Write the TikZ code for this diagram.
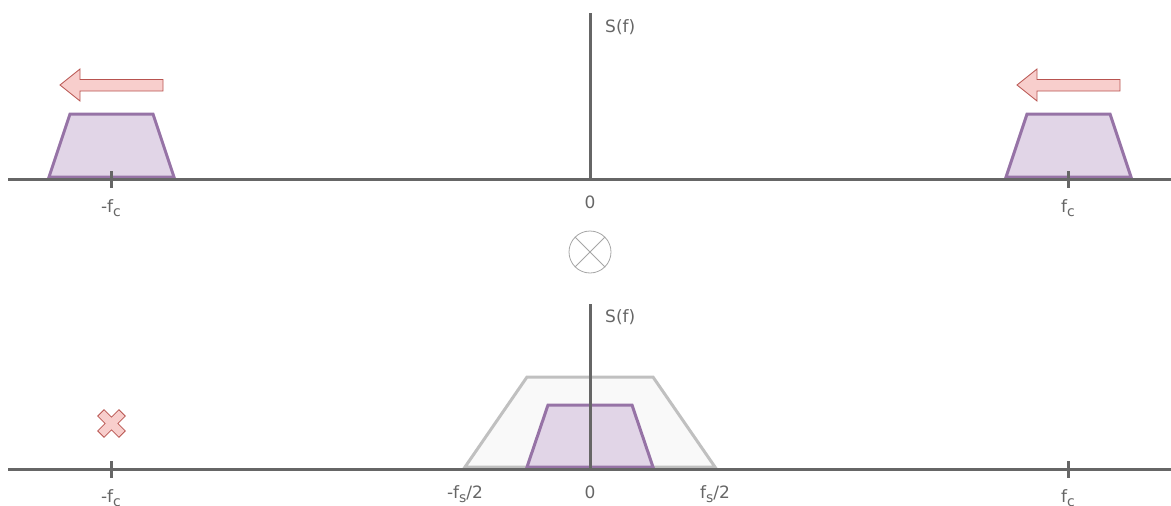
\documentclass[tikz,border=0pt]{standalone}
\usepackage{fontspec}
\setmainfont{DejaVu Sans}
\usepackage{tikz}
\usetikzlibrary{calc}

\definecolor{axisgray}{HTML}{666666}
\definecolor{bandfill}{HTML}{E1D5E7}
\definecolor{banddraw}{HTML}{9673A6}
\definecolor{shiftfill}{HTML}{F8CECC}
\definecolor{shiftdraw}{HTML}{B85450}
\definecolor{passfill}{HTML}{F9F9F9}
\definecolor{passdraw}{HTML}{C0C0C0}

\newcommand{\lowsub}[1]{\raisebox{-4.5pt}{\fontsize{14}{14}\selectfont #1}}

\begin{document}
\begin{tikzpicture}[
  x=1pt, y=-1pt,
  axis/.style={draw=axisgray, line width=3pt},
  band/.style={draw=banddraw, fill=bandfill, line width=3pt, line join=miter},
  pass/.style={draw=passdraw, fill=passfill, line width=3pt},
  shiftmark/.style={draw=shiftdraw, fill=shiftfill, line width=0.8pt},
  lbl/.style={text=axisgray, font=\fontsize{17}{20}\selectfont, inner sep=0pt, anchor=base}
]
\useasboundingbox (0,0) rectangle (1171,506);

% --- upper spectrum: band pass signal around +/- fc
\draw[band] (49,177) -- (70,114) -- (153,114) -- (174,177) -- cycle;
\draw[band] (1006,177) -- (1027,114) -- (1110,114) -- (1131,177) -- cycle;
\draw[axis] (8,179) -- (1171,179);
\draw[axis] (590,13) -- (590,179);
\foreach \xc in {111,1068}
  \draw[axis] (\xc,171) -- (\xc,188);
\node[lbl, anchor=base west] (sftop) at (605,32) {S(f)};
\node[lbl] (zerotop) at (590,208) {0};
\node[lbl] (fcnegtop) at (111,212) {-f\lowsub{c}};
\node[lbl] (fcpostop) at (1068,212) {f\lowsub{c}};

% shift arrows
\draw[shiftmark] (60,85) -- (80,69) -- (80,79.5) -- (163,79.5) -- (163,91) -- (80,91) -- (80,101) -- cycle;
\draw[shiftmark] (1017,85) -- (1037,69) -- (1037,79.5) -- (1120,79.5) -- (1120,91) -- (1037,91) -- (1037,101) -- cycle;

% mixer
\node[draw=gray!70, line width=0.8pt, circle, minimum size=42pt, inner sep=0pt] (mix) at (590,252) {};
\draw[gray!70, line width=0.8pt] (mix.north west) -- (mix.south east)
  (mix.north east) -- (mix.south west);

% --- lower spectrum: baseband after mixing
\draw[pass] (465,467) -- (527,377) -- (653,377) -- (715,467) -- cycle;
\draw[band] (527,467) -- (548,405) -- (632,405) -- (653,467) -- cycle;
\draw[axis] (8,469) -- (1171,469);
\draw[axis] (590,304) -- (590,469);
\foreach \xc in {111,1068}
  \draw[axis] (\xc,461) -- (\xc,478);
\node[lbl, anchor=base west] (sfbot) at (605,322) {S(f)};
\node[lbl] (fsneg) at (465,498) {-f\lowsub{s}/2};
\node[lbl] (zerobot) at (590,498) {0};
\node[lbl] (fspos) at (715,498) {f\lowsub{s}/2};
\node[lbl] (fcnegbot) at (111,502) {-f\lowsub{c}};
\node[lbl] (fcposbot) at (1068,502) {f\lowsub{c}};

% removed image component
\draw[shiftmark, rotate around={45:(111.5,423.5)}]
  ($(111.5,423.5)+(-4.5,-15)$) -- ++(9,0) -- ++(0,10.5) -- ++(10.5,0) -- ++(0,9)
  -- ++(-10.5,0) -- ++(0,10.5) -- ++(-9,0) -- ++(0,-10.5) -- ++(-10.5,0)
  -- ++(0,-9) -- ++(10.5,0) -- cycle;
\end{tikzpicture}
\end{document}
